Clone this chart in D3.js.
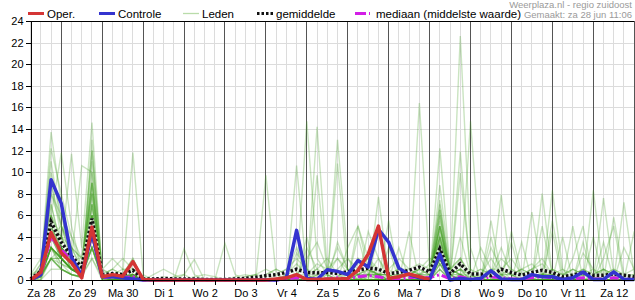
<!DOCTYPE html>
<html>
<head>
<meta charset="utf-8">
<script src="https://cdn.jsdelivr.net/npm/d3@7"></script>
<style>
  body { margin: 0; background: #fff; }
  svg { display: block; font-family: "Liberation Sans", Arial, sans-serif; }
  .grid line { stroke: #dcdcdc; shape-rendering: crispEdges; }
  .dayline { stroke: #555; shape-rendering: crispEdges; }
  .axis text { font-size: 11px; fill: #000; }
  .axis line, .axis path { stroke: #000; shape-rendering: crispEdges; }
</style>
</head>
<body>
<div class="chart"></div>
<script>
// ensemble neerslag, 6-uurs stappen vanaf Za 28 06:00
const dayLabels = ["Za 28","Zo 29","Ma 30","Di 1","Wo 2","Do 3","Vr 4","Za 5","Zo 6","Ma 7","Di 8","Wo 9","Do 10","Vr 11","Za 12"]
const yTicks = [0,2,4,6,8,10,12,14,16,18,20,22,24]
const startHour = 6
const stepHours = 6

const oper = [0,0.7,4.4,2.5,1.6,0.2,4.9,0.3,0.5,0.35,1.7,0.05, 0,0,0,0,0,0,0,0,0,0,0,0,
  0.1,0.2,0.5,0.05,0.05,0.1,0.1,0.15,0.9,2.4,5.0,0.15, 0.3,0.55,0.3,0.05]

const controle = [0,0.5,9.3,7.1,2.1,0.4,4.4,0.3,0.3,0.2,0.1,0, 0,0,0,0,0,0,0,0,0,0,0,0,
  0,0.2,4.6,0.15,0.05,0.95,0.8,0.5,1.8,1.2,4.7,3.5, 1.1,0.5,0.2,0.05,2.4,0,0.15,0.05,0.15,0.85,0.1,0.05,
  0.05,0.5,0.3,0.3,0.05,0.2,0.75,0.05,0.05,0.75,0.05,0.05]

const gemiddelde = [0.1,0.8,5.4,3.5,2.2,1.2,5.7,0.5,0.6,0.5,0.9,0.1, 0.1,0.15,0.1,0.1,0.1,0.05,0.05,0.05,0.1,0.15,0.25,0.4,
  0.5,0.7,1.0,0.7,0.65,0.7,0.6,0.75,0.9,1.1,1.0,0.6, 0.7,0.9,1.2,0.75,2.9,0.6,1.5,0.55,0.55,0.4,1.0,0.7,
  0.45,0.7,0.9,0.7,0.3,0.45,0.7,0.45,0.45,0.55,0.45,0.3]

const mediaan = [0,0.5,4.0,2.8,1.8,0.6,4.3,0.2,0.3,0.2,0.3,0, 0,0,0,0,0,0,0,0,0,0,0,0,
  0,0.1,0.2,0.15,0.1,0.1,0.2,0.1,0.3,0.4,0.3,0.1, 0.1,0.2,0.3,0.2,0.5,0.1,0.3,0.1,0.1,0.3,0.2,0.1,
  0.1,0.2,0.3,0.2,0.1,0.1,0.2,0.1,0.1,0.2,0.1,0.1]

const leden = [
  [0,1,13.7,7,3,1,9,0.5,0.3,0.5,2,0, 0,0,0,0,0,0,0,0,0,0,0,0, 0,0.5,1,0.5,0,0,0.3,0.5,1,2,0.5,0, 0,0.5,1,0.5,5,1,0.5,0,0,0,0.5,0, 0,0,0.5,1,0,0,0,0.3,0,0,0,0],
  [0,0.5,12.2,8,4,2,8,0.2,0.5,1,1,0, 0,0,0,0,0,0,0,0,0,0.3,0.5,0, 0,0,0.3,14.7,2,0.5,0,0,0.5,1,0.3,0, 0,0,0.5,0.3,3,0.5,1,0,0,0.5,0,0, 0,0.5,0,0,0,0.3,0,0,0,0,0,0],
  [0.5,2,6,11.8,5,1,12,1,0.3,0.2,0.5,0, 0,0.3,0,0,0,0,0,0,0,0,0,0, 0,0,0,0.5,1,0.5,3,1,0,0.5,2,0.5, 0,0,0,0,8.8,1,2,0.5,0,0,0.5,1, 0,0,0,0,0,0,0.5,0,0,0,0,0],
  [0,0.3,4,3,11.7,3,14.6,0.5,1,0.5,0,0, 0,0,0,0,0,0,0,0,0,0,0,0, 0.5,0,0,0,0,0,0,0,0,0,0.5,1, 0,0,0,0.5,4,0.5,22.6,3,0,0,0,0, 0,0,0,0,0,0,0,0.5,0,0,0,0],
  [0,1,8,5,2,10.6,10,0,0.5,0.3,1,0.2, 0,0,0,0,0,0,0,0,0,0,0,9.7, 0.5,0,0,0,0,0,0,0,0,0.5,0,0, 0.5,0,0,0,2,0,0,0,0,0,0,0, 0,0,0,0,0,0,0,0,1,0,0,0],
  [0,0.5,5,2,1,0.5,13,0.3,0,0.5,0.3,0, 0,0,0,0,0,0,0,0,0,0,0,0, 0,0,0,0,14.2,1,0.5,0,0,0.3,0.5,0, 0,0,0,0,6,0.5,0,0,0,0,1,0.5, 0,0,0,8.3,1,0,0,0,0,0,0,0],
  [0.2,1.5,9,4,2,0.5,7,1,0.5,0,0.5,0, 0,0,0,0,0,0,0,0,0,0,0,0, 0,0,0,0,0,0,13,2,0.5,0,0,0, 0,0,0.5,1,7,0.5,1.5,0.5,0,0,0,0, 0,0,0.5,0,0,0,0,0,0,0,0,0],
  [0,0,3,2,1,0.5,11,0.2,0.3,0,0,0, 0,0,0,0,0,0,0,0,0,0,0,0, 0,0,0,0,0,0,0,0,0.5,0,0,0, 0,0,16.4,1,3,0,0.5,0,0,0,0,0, 0,0,0,0,0,0,0,0,0,0,0,0],
  [0,1,7,3,2,1,6,0.5,1,0.5,11.8,0.5, 0,0,0,0,0,0,0,0,0,0,0,0, 0,0,0,0,0,0,0,0,0,0,0,0.5, 0,0,0,0,5,0.5,1,0,0,0,7.9,0.5, 0,0,0,0,0,0,0,0,0,0,0,0],
  [0,0.5,4,5,3,2,5,0.3,0.2,0.5,2,0, 0,0,0,0,0,0,0,0,0,0,0,0, 0,0,10.6,0.5,0,0,0,0,0,0,0,0, 0,0,0,0,12.2,1,0.5,0,0,0,0,0, 0,0,0,0,0,0,0,0,0,0,0,0],
  [0,0.3,2,1,0.5,0.3,4,0.5,0.5,0.3,0.5,0, 0,0,0,0,0,0,0,0,0,0,0,0, 0,0,0,0,9.7,0.5,0,0,0,0,0,0, 0,0,0,0,2,0,0,0,0,0,0,0, 0,0,8,0.5,0,0,0,0,0,0,0,0],
  [0,1,6,2,1,0.5,3,0.2,0,0,0,0, 0,0,0,0,0,0,0,0,0,0,0,0, 0,0,0,0,0,0,10.8,0.5,0,0,0,0, 0,0,0,0,3,0,0,0,0,0,0,0, 0,0,0,0,0,0,0,8.3,0.5,0,0,0],
  [0,0.5,3,1.5,0.5,0.2,9,0.5,0.3,0,0.2,0, 0,0,0,0,0,0,0,0,0,0,0,0, 0,0,0,0,0,0,0,0,0,0,7.7,0.5, 0,0,0,0,1.5,0,0,0,0,0,0,0, 0,0,0,0,0,0,0,0,7.6,0.5,0,0],
  [0,0.5,5,4,1.5,0.5,6,0.3,0.5,0.5,1,0, 0,0,0,0,0,0,0,0,0,0,0,0, 0,0,0,0,0,0,0,0,0,0,0,0, 0,0,0,0,2,0,11.9,0.5,0,0,0,0, 0,0,0,0,0,0,0,0,0,0,7.2,0.5],
  [0,1,10,6,2,1,4,0.5,0.2,0,0.5,0, 0,0,0,0,0,0,0,0,0,0,0,0, 0,0,0,0,0,0,0,0,0,0,0,0, 0,0,0,0,4,0,9.9,1,0,0,0,0, 0,6.3,0.5,0,0,0,0,0,0,0,0,0],
  [0,0.5,2,3,2,1,5,1,2,1,0.5,0, 0,0,0,0,0,0,0,0,0,0,0,0, 0,0,0,0,0,0,0,0,0,0,0,0, 0,0,0,0,1,0,0,14.7,2,0,0,0, 0,0,0,0,0,0,0,0,0,0,0,0],
  [0,1,5,3,2,0.5,8,0.5,0.3,0.5,0.5,0, 0,0,0,0,0,0,0,0,0,0,0,0, 0,0,0,0,0,0,0,0,0,0,0,0, 0,0,0,0,6.5,0,0,0,0,0,0,0, 0,0,0,0,0,5,0,0,0,0,0,0],
  [0,0.5,4,2,1,0.5,6,0.5,0.5,0.5,1,0, 0,0,0,0,0,0,0,0,0,0,0,0, 0,0,0,0,0.5,1,2,0.5,0,0,0,0, 0,0,0,0,3,0,2,0,0,0.5,3,0.5, 0,0,0,0,0,0,0,0,0,0,0,0],
  [0,0,1,1,0.5,0.2,7,0.3,0,0,0.3,0, 0.5,1,0.5,0,0,0,0,0,0,0,0,0, 0,0,0.5,2,3.5,1,0,0,0,0,0,0, 0,0,0,0,2,0,0,0,0,0,0,0, 0,0,0,0,0,0,2.5,1,0,0,0,0],
  [0,0.5,3,2,1,0.5,4,0,0,0,0,0, 0,0,0,2.9,0.5,0,0,0,0,0,0,0, 0,0,0,0,0,0,0,0,0,1,0.5,0, 0,0,0,0,1.5,0,0,0,3,1,0,0, 0,0,0,0,0,0,0,0,0,0,0,0],
  [0,0.3,6,4,2,0.5,5,0.5,0.3,0.2,0,0, 0,0,0,0,0,0,0,3.4,0.5,0,0,0, 0,0,0,0,0,0,0,3,5,1,0,0, 0,0,0,0,3,0.5,0,0,0,0,0,0, 0,0,0,0,0,0,3.5,0,0,0,0,0],
  [0,1,9,5,3,1,3,0.2,0.2,0,0,0, 0,0,0,0.5,1.9,0,0,0,0,0,0,0.5, 1,0.5,3,0.5,0,0,0,0,0,0,0,0, 0,0,0,0,5,0,0,0,0,0,0,0, 0,0,0,0,0,0,0,0,0,0,0,0],
  [0,0.5,7,3,1.5,0.5,10,0.5,0.3,0.3,0.5,0, 0,0,0,0,0,0,0,0,0,0,0,0, 0,0,0,0,0,0,0,0,0,4.5,2,0, 0,0,0,0,6,0,0,0,0,0,0,3.5, 0,0,0,0,0,0,0,0,0,0,0,0],
  [0,0.5,5,4,3,2,9,0.5,1,2,1,0, 0,0,0,0,0,0,0,0,0,0,0,0, 0,0,0,0,0,0,0,0,2,1,0.5,0, 0,0,0,0,4,0,0,0,0,0,0,0, 0,0,0,0,0,0,0,0,0,0,0,0],
  [0,1.5,11,5,2,0.5,6,0.5,0,0,0.5,0, 0,0,0,0,0,0,0,0,0,0,0,0, 0,0,2.5,1,0,0,0,0,0,0,0,0, 0,0,0,0,2.5,0,0,0,0,0,0,0, 0,0,0,0,0,0,0,0,0,0,3,1],
  [0,0.5,8,6,4,1,12,0.5,0.5,0.5,0.3,0, 0,0,0,0,0,0,0,0,0,0,0,0, 0,0,0,0,0,0,0,0,0,0,0,0, 0,0,0,0,7.4,0.5,0,0,0,3,1,0, 0,0,0,0,0,0,0,0,2,5,0,0],
  [0,0.2,2,1.5,1,0.5,9,0.2,0,0,0,0, 0,0,0,0,0,0,0,0,0,0,0,0, 0,0,0,0,0,0,0,0,0,0,0,5.5, 0,0,0,0,3.5,0,0,0,0,0,0,0, 0,0,0,4.5,0,0,0,0,0,0,0,0],
  [0,0.5,3,2,1,0.5,4,0.3,0.2,0,0,0, 0,0,0,0,0,0,0,0,0,0,0,0, 0,0,0,0,0,0,3.5,1,0,0,0,0, 0,0,0,0,1,0,4,0.5,0,5.5,0.5,0, 0,0,0,0,0,0,0,0,0,0,0,0],
  [0,0.5,4,3,2,1,7,0.3,0.3,0.5,0.5,0, 0,0,0,0,0,0,0,0,0,0,0,0, 0,0,0,0,0,0,0,0,0,0,0,0, 0,0,0,0,2,0,0,0,0,0,0,0, 0,0,0,5.5,0.5,0,0,0,0,0,0,0],
  [0,1,6,3,1,0.5,5,0.5,0.5,0,0,0, 0,0,0,0,0,0,0,0,0,0,0,0, 0,0,0.5,0,0,0,0,0,0,0,0,0, 0,0,0,0,2,0,0,0,0,0,0,0, 0,0,0,0,0,0,0,0,0,5.8,0.5,0],
  [0,0.3,2,2,1,0.3,3,0.3,0.3,0.3,0,0, 0,0,0,0,0,0,0,0,0,0,0,0, 0,0.5,0,0,0,0,0,0,0,0,0,0, 0,4.5,0,0,3,0,0,0,0,0,0,0, 0,0,0,0,0,0,0,0,0,0,0,0],
  [0,0.5,5,3,2,1,6,0.2,0,0,0,0, 0,0,0,0,0,0,0,0,0,0,0,0, 0,0,0,0,0,0,0,0,0,0,0,3, 0,0,0,0,5,0,0,0,0,0,0,4.5, 0.5,0,0,0,0,0,0,0,0,0,0,0],
  [0,0.5,4,2,1,0.5,2,0,0,0,0,0, 0,0,0,0,0,0,0,0,0,0,0,0, 0,0,0,0,0,0,0,0,5,2,0,0, 0,0,0,0,4,0,0,0,0,0,0,0, 0,0,0,0,4,0,0,0,0,0,0,0],
  [0,0.3,3,2,1,0.5,5,0,0,0,0,0, 0,0,0,0,0,0,0,0,0,0,0,0, 0,0,0,4,0,0,0,0,0,0,0,0, 0,0,0,0,3,0,0,0,0,0,0,0, 0,0,0,0,0,2,5,0,0,0,0,0],
  [0,0.5,2,1,0.5,0.3,3,0.5,0,0,0,0, 0,0,0,0,0,0,0,0,0,0,0,0, 0,0,0,0,0,0,0,0,4,0.5,0,0, 0,0,0,0,2,0,0,0,0,4,0,0, 0,0,0,0,0,0,0,0,0,0,0,0],
  [0,0.5,4,3,1,0.5,5,0.5,0.3,0,0,0, 0,0,0,0,0,0,0,0,0,0,0,0, 0,0,0,3,1,0,0,0,0,0,0,0, 0,0,0,0,1,0,0,0,0,0,0,0, 3.5,0,0,0,0,0,0,0,0,0,0,0],
  [0,0.5,3,1,0.5,0.3,4,0.3,0,0,0,0, 0,0,0,0,0,0,0,0,0,0,0,0, 0,0,0,0,0,0,0,0,0,0,0,0, 0,0,0,0,1.5,0,0,0,0,0,0,0, 0,0,0,0,0,0,0,0,0,0,0,4.5],
  [0,0,2,2,1,0.5,3,0,0,0,0,0, 0,0,0,0,0,0,0,0,0,0,0,0, 0,0,0,0,0,0,0,0,0,0,4.5,0.5, 0,0,0,0,3,0,0,0,0,0,0,0, 0,0,0,0,0,0,0,4,0,0,0,0],
  [0,0.5,5,3,1,0.5,4,0.2,0,0,0,0, 0,0,0,0,0,0,0,0,0,0,0,0, 0,0,0,0,0,0,0,0,0,0,0,0, 3,0,0,0,2,0,0,0,0,0,0,0, 0,0,0,0,0,0,0,0,3.5,0,0,0],
  [0,0.5,3,2,1,0.5,6,0.3,0,0,0,0, 0,0,0,0,0,0,0,0,0,0,0,0, 0,0,0,0,0,0,0,0,0,0,0,0, 0,0,0,0,2,0,0,0,0,0,0,0, 0,0,5,0.5,0,0,0,0,0,0,0,0],
  [0,0.5,2,1,0.5,0.3,2,0.3,0.5,0.3,0.5,0, 0,0,0,0,0,0,0,0,0.3,0.5,0.3,0.5, 1,0.5,1.5,0.5,1,2,0.5,1,0.5,0.5,1,0.5, 1,0.5,1,2,1.5,0.5,1,0.5,0.3,1,0.5,0.5, 1,0.5,0.3,1,0.5,0.5,1,0.3,0.5,1,0.5,0.3],
  [0,0.3,3,2,1,0.5,3,0.2,0.3,0.5,0.2,0, 0,0,0,0,0,0,0,0,0,0,0.5,1, 0.5,1,2,1,0.5,0.5,1,2,1,0.5,0.5,1, 2,1,0.5,1,3,1,0.5,0.3,0.5,0.5,1,2, 0.5,1,1.5,0.5,0.3,1,0.5,0.5,1,0.5,0.3,0.5],
  [0.5,1,4,2,1,0.5,4,0.3,0.5,0.5,1,0.3, 0,0,0.3,0.5,0,0,0,0,0,0.3,0.5,0.3, 0.5,0.5,1,0.5,1.5,1,0.5,0.5,1.5,2,1,0.5, 0.5,1,1.5,1,4,0.5,1.5,0.5,0.5,1,1,0.5, 1,1.5,0.5,1,0.5,0.3,1,0.5,1,0.5,0.3,0.5],
  [0,0.5,3,1.5,1,0.5,5,0.5,0.5,0.3,0.3,0, 0,0,0,0,0.3,0.5,0.3,0,0,0,0,0.5, 0.5,1,0.5,0.5,0.5,0.5,2,1,0.5,1,0.5,0.5, 1,0.5,0.5,1.5,2,0.5,1,0.5,1,0.5,2,1, 0.5,0.5,1,0.5,0.5,1,0.5,0.5,0.5,1,0.5,0.3],
  [0,0.5,6,3,2,1,8,0.5,0.3,0.2,0.5,0, 0,0,0,0,0,0,0,0,0,0,0,0, 0,0,0.5,0,0.5,1,0.5,0.5,2,1,0.5,0.5, 0.5,0.5,1,0.5,6.5,1,0.5,0,0,0.5,1,0.5, 0.5,0.5,0.5,0.5,0,0,0.5,0.5,0,0,0.5,0],
  [0,0.5,3,2,1,0.5,6,0.3,0.3,0,0,0, 0,0,0,0,0,0,0,0,0,0,0,0, 0,0,0,0,0,0,0,0,0,0.5,0.5,0.5, 0.5,1,0.5,0.5,5,1,2,0.5,1,0.5,1,0.5, 0.5,1,2,0.5,0.5,1,0.5,0.5,1,0.5,0.5,1],
  [0,0.5,4,3,1.5,0.5,5,0.5,0.3,0.3,0.3,0, 0,0,0,0,0,0,0,0,0,0,0,0, 0,0,0,0,0,0,0,0,0.5,1,0.5,0.5, 1,1,0.5,0.5,3.5,0.5,0.5,0.5,0.5,2,0.5,0.5, 1,0.5,0.5,0.5,1,0.5,0.5,1,0.5,0.5,0.5,0.3],
  [0,0.3,2,1,0.5,0.3,3,0.3,0,0,0,0, 0,0,0,0,0,0,0,0,0,0,0,0, 0,0,0,0,0,0.5,0,0.5,0.5,0.5,0.5,0.5, 0.5,0.5,1,0.5,4.5,0.5,0.5,1,0.5,0.5,1,0.5, 0.5,1,0.5,0.5,0.5,0.5,1,0.5,0.5,0.5,0.5,0.5],
  [0,0.5,5,2,1,0.5,7,0.5,0.3,0.2,0.2,0, 0,0,0,0,0,0,0,0,0,0,0,0, 0,0,0.5,0,0,0,0,0,0,0,0,0, 0,0,0,0,5.5,0,0.5,0,0,0,0,0, 0,0,0,0,0,0,0,0,0,0,0,0],
  [0,0.5,3,2,1,0.5,4,0.3,0.3,0.5,0.3,0, 0,0,0,0,0,0,0,0,0,0,0,0, 0,0,0,0,0,0,0,0,0,0,0,0, 0,0,0,0,3,0.5,0,0,0,0,0,0, 0,0,0,0,0,0,0,0,0,0,0,0]
]

const margin = {top: 21, right: 0.8, bottom: 20, left: 30.6}
const width = 635 - margin.left - margin.right
const height = 300 - margin.top - margin.bottom

const svg = d3.select(".chart").append("svg")
    .attr("width", 635)
    .attr("height", 300)

const g = svg.append("g")
    .attr("transform", "translate(" + margin.left + "," + margin.top + ")")

// uren vanaf Za 28 00:00
const endHour = startHour + stepHours * (controle.length - 1)
const x = d3.scaleLinear().domain([startHour, endHour]).range([0, width])
const y = d3.scaleLinear().domain([0, 24]).range([height, 0])

const hourOf = function(i) { return startHour + i * stepHours }

// raster
const grid = g.append("g").attr("class", "grid")
grid.selectAll(".h").data(yTicks.slice(1, -1)).enter().append("line")
    .attr("x1", 0).attr("x2", width)
    .attr("y1", function(d) { return Math.round(y(d)) + 0.5 })
    .attr("y2", function(d) { return Math.round(y(d)) + 0.5 })

const sixHours = d3.range(startHour, endHour + 1, stepHours).filter(function(h) { return h % 24 !== 0 })
grid.selectAll(".v").data(sixHours).enter().append("line")
    .attr("x1", function(d) { return x(d) }).attr("x2", function(d) { return x(d) })
    .attr("y1", 0).attr("y2", height)

const dayStarts = d3.range(24, endHour + 1, 24)
g.selectAll(".dayline").data(dayStarts).enter().append("line")
    .attr("class", "dayline")
    .attr("x1", function(d) { return x(d) }).attr("x2", function(d) { return x(d) })
    .attr("y1", 0).attr("y2", height)

// lijnen
const line = d3.line()
    .x(function(d, i) { return x(hourOf(i)) })
    .y(function(d) { return y(d) })

g.selectAll(".lid").data(leden).enter().append("path")
    .attr("class", "lid")
    .attr("d", line)
    .attr("fill", "none")
    .attr("stroke", "#3f9e1f")
    .attr("stroke-opacity", 0.28)
    .attr("stroke-width", 1.4)

g.append("path").datum(mediaan)
    .attr("d", line)
    .attr("fill", "none")
    .attr("stroke", "#d21ee6")
    .attr("stroke-width", 3)
    .attr("stroke-dasharray", "9,3,2,3")

g.append("path").datum(gemiddelde)
    .attr("d", line)
    .attr("fill", "none")
    .attr("stroke", "#fff")
    .attr("stroke-opacity", 0.7)
    .attr("stroke-width", 3.5)

g.append("path").datum(gemiddelde)
    .attr("d", line)
    .attr("fill", "none")
    .attr("stroke", "#111")
    .attr("stroke-width", 3.5)
    .attr("stroke-dasharray", "2.5,2")

g.append("path").datum(controle)
    .attr("d", line)
    .attr("fill", "none")
    .attr("stroke", "#3434cf")
    .attr("stroke-width", 3.5)
    .attr("stroke-linejoin", "round")

g.append("path").datum(oper)
    .attr("d", line)
    .attr("fill", "none")
    .attr("stroke", "#d43535")
    .attr("stroke-width", 3.5)
    .attr("stroke-linejoin", "round")

// assen
const yAxis = d3.axisLeft(y).tickValues(yTicks).tickSize(5).tickPadding(2)
g.append("g").attr("class", "axis").call(yAxis)
    .select(".domain").attr("d", "M0.5,0V" + height)

const tickHours = d3.range(startHour, endHour + 1, 12)
g.append("g").attr("class", "axis")
    .attr("transform", "translate(0," + height + ")")
    .call(d3.axisBottom(x).tickValues(tickHours).tickSize(5).tickFormat(""))
    .select(".domain").attr("d", "M0,0.5H" + width)

g.append("g").attr("class", "axis")
    .attr("transform", "translate(0," + height + ")")
    .call(d3.axisBottom(x).tickValues(dayLabels.map(function(d, i) { return 12 + i * 24 }))
        .tickSize(0).tickPadding(9)
        .tickFormat(function(d, i) { return dayLabels[i] }))
    .select(".domain").remove()

g.append("line")
    .attr("x1", 0).attr("x2", width)
    .attr("y1", 0.5).attr("y2", 0.5)
    .attr("stroke", "#000")
    .style("shape-rendering", "crispEdges")

// legenda
const legend = svg.append("g").attr("transform", "translate(0,13.5)")
const items = [
  {x: 28, label: "Oper.", color: "#d43535", w: 3, dash: null},
  {x: 99, label: "Controle", color: "#3434cf", w: 3, dash: null},
  {x: 183, label: "Leden", color: "#b9dcaa", w: 1.3, dash: null},
  {x: 257, label: "gemiddelde", color: "#111", w: 3, dash: "2.5,2"},
  {x: 355, label: "mediaan (middelste waarde)", color: "#d21ee6", w: 3, dash: "11,3,2,10"}
]
legend.selectAll("line").data(items).enter().append("line")
    .attr("x1", function(d) { return d.x })
    .attr("x2", function(d) { return d.x + (d.label.length > 20 ? 15 : 16) })
    .attr("y1", 0).attr("y2", 0)
    .attr("stroke", function(d) { return d.color })
    .attr("stroke-width", function(d) { return d.w })
    .attr("stroke-dasharray", function(d) { return d.dash })
legend.selectAll("text").data(items).enter().append("text")
    .attr("x", function(d) { return d.x + (d.label.length > 20 ? 21 : 19) })
    .attr("dy", "0.36em")
    .style("font-size", "11.5px")
    .text(function(d) { return d.label })

svg.append("text")
    .attr("x", 632).attr("y", 8)
    .attr("text-anchor", "end")
    .style("font-size", "9.5px").style("fill", "#9a9a9a")
    .text("Weerplaza.nl - regio zuidoost")
svg.append("text")
    .attr("x", 632).attr("y", 18)
    .attr("text-anchor", "end")
    .style("font-size", "9.5px").style("fill", "#9a9a9a")
    .text("Gemaakt: za 28 jun 11:06")
</script>
</body>
</html>
